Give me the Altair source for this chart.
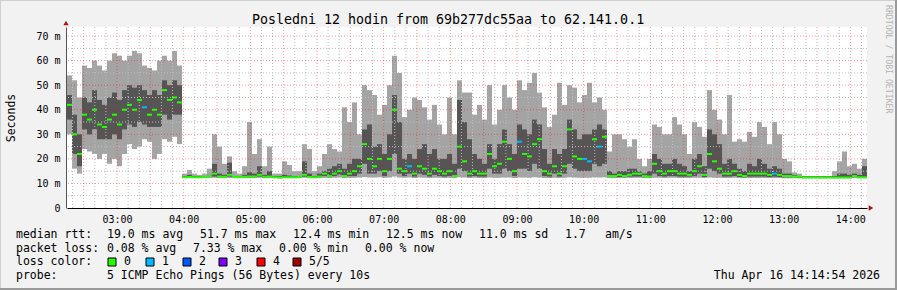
import altair as alt
import pandas as pd

FONT = "DejaVu Sans Mono"
TITLE = "Posledni 12 hodin from 69b277dc55aa to 62.141.0.1"
START = "2026-04-16 02:15:00"
STEP_S = 270  # 4.5 minute columns

# ---- data (ms) ----
hi = [54, 52, 45, 58, 57, 60, 58, 56, 60, 63, 62, 60, 62, 64, 63, 58, 57, 56, 60, 62, 60, 64, 58,
      14, 15.5, 14, 13.5, 14, 16, 30, 25, 18, 21, 15, 14, 17, 35, 22, 28, 17,
      25, 14, 14, 19, 17.5, 15, 15, 26, 24, 15, 17, 22, 26, 24, 23, 41, 35, 43, 30, 50,
      48, 46, 38, 42, 50, 62, 55, 37, 40, 45, 44, 41, 36, 42, 34, 30, 45, 30, 52, 47,
      47, 38, 42, 36, 50, 34, 40, 50, 45, 40, 52, 48, 51, 55, 47, 41, 33, 38, 51, 42,
      50, 49, 43, 46, 51, 43, 45, 40, 23, 30, 30, 28, 25, 28, 20, 17, 20, 34, 33, 30,
      30, 37, 34, 30, 22, 35, 33, 29, 48, 40, 36, 30, 46, 27, 28, 27, 31, 29, 35, 33,
      26, 35, 30, 20, 19, 14.5, 14, 13, 13, 13, 13, 13, 13, 15, 19, 23, 17, 18, 16, 20]
q3 = [46, 38, 30, 45, 43, 48, 44, 42, 45, 47, 44, 48, 50, 49, 50, 48, 46, 48, 46, 52, 50, 52, 50,
      13, 13.5, 13, 12.9, 13, 13.5, 18, 14, 13.5, 18.5, 13, 13, 13.5, 14.5, 14, 17, 13.5,
      15, 13, 13, 13.5, 13.2, 13, 13, 19, 14, 13, 14, 15, 16, 17, 18, 16, 18, 20, 20, 32,
      34, 25, 26, 22, 30, 46, 35, 20, 22, 20, 24, 26, 22, 24, 20, 20, 22, 18, 44, 35,
      28, 22, 20, 18, 26, 20, 26, 32, 26, 22, 34, 32, 30, 36, 34, 24, 18, 24, 22, 24,
      36, 32, 28, 30, 30, 32, 34, 32, 15, 14, 15, 15, 16, 16, 15, 14, 15, 22, 20, 18,
      18, 20, 18, 17, 15, 20, 22, 17, 32, 30, 26, 18, 20, 18, 16, 15, 18, 17, 20, 18,
      16, 17, 16, 14, 14, 13.5, 13, 12.9, 12.9, 12.9, 12.9, 12.9, 12.9, 13, 14, 14, 13.5, 14, 13.5, 17]
med = [42, 30, 22, 38, 36, 40, 34, 33, 36, 38, 34, 40, 42, 40, 44, 41, 38, 40, 38, 48, 44, 45, 43,
       12.5, 12.6, 12.5, 12.5, 12.6, 13, 14, 12.8, 12.7, 13.5, 12.6, 12.6, 12.7, 12.8, 12.8, 13.5, 12.7,
       12.8, 12.5, 12.4, 12.5, 12.5, 12.5, 12.6, 13.5, 12.6, 12.5, 12.8, 14, 13, 14, 15, 13, 14, 15, 17, 26,
       20, 17, 20, 15, 20, 40, 16, 15, 17, 14, 17, 16, 14, 16, 15, 14, 15, 13, 25, 19,
       14, 15, 14, 14, 22, 17, 18, 27, 20, 15, 27, 22, 21, 26, 28, 15, 14, 17, 14, 17,
       32, 21, 20, 20, 19, 28, 25, 29, 13, 13, 13.5, 13, 13.5, 14, 14, 13, 12.8, 18, 15, 14,
       15, 15, 14, 14, 13.5, 15, 17, 13.5, 22, 19, 16, 14, 14, 15, 13.5, 13, 14, 14, 14, 14,
       13.5, 14, 13.5, 13, 13, 12.8, 12.8, 12.4, 12.4, 12.4, 12.4, 12.4, 12.4, 12.4, 12.4, 12.4, 12.4, 13.0, 12.5, 12.5]
q1 = [36, 22, 17, 32, 30, 32, 28, 28, 28, 30, 28, 32, 34, 33, 35, 34, 33, 33, 33, 38, 36, 38, 38,
      12.4, 12.4, 12.4, 12.4, 12.4, 12.6, 12.8, 12.5, 12.4, 12.8, 12.4, 12.4, 12.4, 12.5, 12.5, 12.8, 12.4,
      12.5, 12.4, 12.3, 12.4, 12.4, 12.4, 12.4, 12.8, 12.4, 12.4, 12.5, 13, 12.6, 13, 13.5, 12.6, 13, 13, 14, 18,
      14, 14, 15, 13, 15, 22, 14, 13, 14, 12.8, 14, 13.5, 12.8, 13.5, 13, 12.8, 13, 12.6, 16, 15,
      12.8, 13, 12.8, 12.8, 16, 14, 14, 16, 15, 13, 16, 16, 15, 18, 16, 13, 12.8, 14, 12.8, 14,
      18, 16, 15, 15, 15, 18, 17, 18, 12.6, 12.6, 12.6, 12.6, 12.8, 12.8, 12.8, 12.6, 12.5, 14, 13, 12.8,
      13, 13, 12.8, 12.8, 12.8, 13, 14, 12.6, 16, 15, 14, 12.8, 12.8, 13, 12.6, 12.5, 12.8, 12.8, 12.8, 12.8,
      12.6, 12.8, 12.6, 12.5, 12.5, 12.5, 12.3, 12.3, 12.3, 12.3, 12.3, 12.3, 12.3, 12.3, 12.3, 12.3, 12.3, 12.6, 12.3, 12.3]
lo = [30, 16, 14, 24, 23, 22, 20, 22, 18, 20, 17, 22, 26, 24, 25, 28, 27, 20, 22, 28, 27, 29, 26,
      12.2, 12.2, 12.3, 12.2, 12.2, 12.2, 12.3, 12.2, 12.2, 12.2, 12.3, 12.2, 12.2, 12.2, 12.2, 12.3, 12.2,
      12.2, 12.2, 12.1, 12.2, 12.2, 12.2, 12.2, 12.3, 12.2, 12.2, 12.2, 12.3, 12.2, 12.3, 12.4, 12.2, 12.3, 12.3, 12.4, 12.6,
      12.4, 12.4, 12.5, 12.3, 12.4, 12.8, 12.4, 12.3, 12.4, 12.2, 12.4, 12.3, 12.2, 12.3, 12.3, 12.2, 12.3, 12.2, 12.5, 12.4,
      12.2, 12.3, 12.2, 12.2, 12.4, 12.3, 12.3, 12.4, 12.4, 12.2, 12.4, 12.4, 12.3, 12.5, 12.4, 12.2, 12.2, 12.3, 12.2, 12.3,
      12.5, 12.4, 12.3, 12.3, 12.3, 12.5, 12.4, 12.5, 12.2, 12.2, 12.2, 12.2, 12.2, 12.3, 12.3, 12.2, 12.2, 12.3, 12.3, 12.2,
      12.3, 12.3, 12.2, 12.2, 12.2, 12.3, 12.3, 12.2, 12.4, 12.3, 12.3, 12.2, 12.2, 12.3, 12.2, 12.2, 12.2, 12.2, 12.2, 12.2,
      12.2, 12.2, 12.2, 12.1, 12.1, 12.1, 12.1, 12.1, 12.1, 12.1, 12.1, 12.1, 12.1, 12.1, 12.1, 12.1, 12.1, 12.2, 12.1, 12.1]
loss_one_at = [15, 68, 90, 103, 104, 106, 141]   # columns with 1/5 lost

loss_labels = ["0", "1", "2", "3", "4", "5/5"]
loss_colors = ["#26ff00", "#00b8ff", "#0059ff", "#7e00ff", "#ff0000", "#a10000"]

y_ticks = [0, 10, 20, 30, 40, 50, 60, 70]
x_hours = [3, 4, 5, 6, 7, 8, 9, 10, 11, 12, 13, 14]

legend_rows = [
    [("median rtt:", 16), ("19.0 ms avg", 107), ("51.7 ms max", 200), ("12.4 ms min", 293),
     ("12.5 ms now", 386), ("11.0 ms sd", 479), ("1.7", 565), ("am/s", 605)],
    [("packet loss:", 16), ("0.08 % avg", 107), ("7.33 % max", 193), ("0.00 % min", 279),
     ("0.00 % now", 365)],
    [("loss color:", 16)],
    [("probe:", 16), ("5 ICMP Echo Pings (56 Bytes) every 10s", 107)],
]
DATE_TEXT = "Thu Apr 16 14:14:54 2026"

# ---- build table ----
n = len(med)
t = pd.date_range(START, periods=n, freq=f"{STEP_S}s")
loss = [1 if i in loss_one_at else 0 for i in range(n)]
df = pd.DataFrame({
    "t": t, "t2": t + pd.Timedelta(seconds=STEP_S), "tm": t + pd.Timedelta(seconds=STEP_S / 2),
    "lo": lo, "q1": q1, "med": med, "q3": q3, "hi": hi, "loss": loss,
})

OX, OY = 67, 27          # plot origin in the page
W, H = 800, 181

def dt(h, m=0):
    return alt.DateTime(year=2026, month=4, date=16, hours=h, minutes=m)

xscale = alt.Scale(domain=[dt(2, 15), dt(14, 15)], nice=False)
yscale = alt.Scale(domain=[0, 73.7], nice=False, zero=True)

xaxis = alt.Axis(values=[dt(h) for h in x_hours], format="%H:%M", labelFont=FONT, labelFontSize=10,
                 labelColor="black", ticks=False, tickSize=0, labelPadding=14, labelBaseline="alphabetic",
                 domainColor="black", domainWidth=1, grid=False, title=None, labelFlush=False,
                 labelOverlap=False)
yaxis = alt.Axis(values=y_ticks, labelExpr="datum.value == 0 ? '0\u00a0\u00a0' : datum.value + ' m'",
                 labelFont=FONT, labelFontSize=10, labelColor="black", ticks=False, tickSize=0,
                 labelPadding=6, labelBaseline="middle", domainColor="#555555", grid=False, offset=1,
                 title="Seconds", titleFont=FONT, titleFontSize=11.5, titleFontWeight="normal",
                 titleColor="black", titleAngle=270, titleX=-55, titleY=H / 2, titleAlign="center",
                 titleBaseline="middle")

def X(field):
    return alt.X(field, scale=xscale, axis=xaxis)

def Y(field):
    return alt.Y(field, scale=yscale, axis=yaxis)

base = alt.Chart(df)
smoke_out = base.mark_rect(color="#a4a4a4").encode(x=X("t:T"), x2="t2:T", y=Y("lo:Q"), y2="hi:Q")
smoke_in = base.mark_rect(color="#555555").encode(x=X("t:T"), x2="t2:T", y=Y("q1:Q"), y2="q3:Q")
median = base.mark_tick(orient="horizontal", size=5, thickness=2, opacity=1).encode(
    x=X("tm:T"), y=Y("med:Q"),
    color=alt.Color("loss:O", scale=alt.Scale(domain=[0, 1, 2, 3, 4, 5], range=loss_colors), legend=None))

# grid
tg = pd.date_range("2026-04-16 02:20:00", "2026-04-16 14:10:00", freq="10min")
vmin = pd.DataFrame({"g": [x for x in tg if x.minute % 30 != 0]})
vmaj = pd.DataFrame({"g": [x for x in tg if x.minute % 30 == 0]})
hmin = pd.DataFrame({"v": [5, 15, 25, 35, 45, 55, 65]})
hmaj = pd.DataFrame({"v": [10, 20, 30, 40, 50, 60, 70]})
grid_layers = [
    alt.Chart(vmin).mark_rule(color="#bdbdbd", strokeDash=[1, 2], strokeWidth=1).encode(x=X("g:T")),
    alt.Chart(hmin).mark_rule(color="#bdbdbd", strokeDash=[1, 2], strokeWidth=1).encode(y=Y("v:Q")),
    alt.Chart(vmaj).mark_rule(color="#ff0000", opacity=0.4, strokeDash=[1, 2], strokeWidth=1).encode(x=X("g:T")),
    alt.Chart(hmaj).mark_rule(color="#ff0000", opacity=0.4, strokeDash=[1, 2], strokeWidth=1).encode(y=Y("v:Q")),
]

one = pd.DataFrame({"s": [""]})

def txt(s, x, y, size=11.5, align="left", color="black", angle=0, baseline="alphabetic"):
    return alt.Chart(pd.DataFrame({"s": [s]})).mark_text(
        font=FONT, fontSize=size, align=align, baseline=baseline, color=color, angle=angle
    ).encode(text="s:N", x=alt.value(x - OX), y=alt.value(y - OY))

def box(x0, x1, y0, y1, fill, stroke="black"):
    return alt.Chart(one).mark_rect(fill=fill, stroke=stroke, strokeWidth=1).encode(
        x=alt.value(x0 - OX), x2=alt.value(x1 - OX), y=alt.value(y0 - OY), y2=alt.value(y1 - OY))

def rule(x0, x1, y0, y1, color, width=1):
    return alt.Chart(one).mark_rule(color=color, strokeWidth=width).encode(
        x=alt.value(x0 - OX), x2=alt.value(x1 - OX), y=alt.value(y0 - OY), y2=alt.value(y1 - OY))

deco = []
# frame
deco.append(rule(0, 897, 0.5, 0.5, "#d0d0d0"))
deco.append(rule(0.5, 0.5, 0, 290, "#d0d0d0"))
deco.append(rule(0, 897, 289, 289, "#9a9a9a", 2))
deco.append(rule(896, 896, 0, 290, "#9a9a9a", 2))
# arrows
deco.append(alt.Chart(one).mark_point(shape="triangle-up", filled=True, size=28, color="#a31515", opacity=1)
            .encode(x=alt.value(-1), y=alt.value(-4)))
deco.append(alt.Chart(one).mark_point(shape="triangle-right", filled=True, size=28, color="#a31515", opacity=1)
            .encode(x=alt.value(W + 4), y=alt.value(H)))
# title, watermark
deco.append(txt(TITLE, 448, 24, size=13.3, align="center"))
deco.append(txt("RRDTOOL / TOBI OETIKER", 888, 5, size=8.2, angle=90, baseline="middle", color="#b4b4b4"))
# legend
row_y = [238.3, 251.7, 265.3, 279]
for row, yb in zip(legend_rows, row_y):
    for s, x in row:
        deco.append(txt(s, x, yb))
box_x = [108, 146, 183, 219, 257, 293]
for bx, lab, col in zip(box_x, loss_labels, loss_colors):
    deco.append(box(bx, bx + 8, 258, 266, col))
    deco.append(txt(lab, bx + 16, row_y[2]))
deco.append(txt(DATE_TEXT, 880, row_y[3], align="right"))

chart = alt.layer(smoke_out, smoke_in, *grid_layers, median, *deco).properties(
    width=W, height=H,
    autosize=alt.AutoSizeParams(type="none"),
    padding={"left": OX, "top": OY, "right": 897 - OX - W, "bottom": 290 - OY - H},
    background="#f2f2f2",
).configure_view(stroke=None, fill="white")

chart.save("out.html", embed_options={"renderer": "svg", "actions": False})
